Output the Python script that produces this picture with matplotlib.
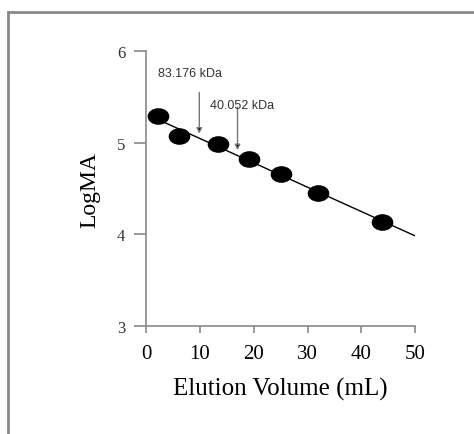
import numpy as np
import matplotlib
matplotlib.use("Agg")
from matplotlib import pyplot as plt
from matplotlib.markers import MarkerStyle
from matplotlib.transforms import Affine2D
from matplotlib.patches import Rectangle

# Data
elution_volume = [2.3, 6.1, 13.4, 19.2, 25.1, 32.0, 43.9]
log_ma = [5.29, 5.07, 4.99, 4.82, 4.66, 4.45, 4.14]

# Marked proteins
arrow_labels = ["83.176 kDa", "40.052 kDa"]
arrow_x = [9.9, 17.0]
arrow_top = [5.55, 5.39]
arrow_tip = [5.10, 4.92]
label_y = [5.76, 5.41]
label_x = [2.2, 11.9]

# Linear fit line, drawn from first point to x = 50
slope, intercept = np.polyfit(elution_volume, log_ma, 1)
fit_x = np.array([elution_volume[0], 50])
fit_y = slope * fit_x + intercept

serif = ["Liberation Serif", "DejaVu Serif"]
narrow = ["Liberation Sans Narrow", "Liberation Sans", "DejaVu Sans"]

fig = plt.figure(figsize=(4.74, 4.35), dpi=100)
ax = fig.add_axes([0.308, 0.248, 0.568, 0.632])

# Outer gray frame (top and left visible)
fig.patches.append(Rectangle((0.017, -0.05), 1.1, 1.05 - 0.0155 * 2, transform=fig.transFigure,
                             fill=False, edgecolor="#8a8a8a", linewidth=2))

ax.plot(fit_x, fit_y, color="black", linewidth=1.0, zorder=2)
ellipse = MarkerStyle("o", transform=Affine2D().scale(1.33, 1.0))
ax.scatter(elution_volume, log_ma, marker=ellipse, s=120, color="black", zorder=3)

for x, top, tip, lab, lx, ly in zip(arrow_x, arrow_top, arrow_tip, arrow_labels, label_x, label_y):
    ax.annotate("", xy=(x, tip), xytext=(x, top),
                arrowprops=dict(arrowstyle="-|>", color="#777777", lw=1.0,
                                mutation_scale=8, shrinkA=0, shrinkB=0, fc="black"))
    ax.text(lx, ly, lab, fontsize=9, family=narrow, color="#333333", va="center", ha="left")

ax.set_xlim(0, 50)
ax.set_ylim(3, 6)
ax.set_xticks([0, 10, 20, 30, 40, 50])
ax.set_yticks([3, 4, 5, 6])

for side in ["top", "right"]:
    ax.spines[side].set_visible(False)
for side in ["left", "bottom"]:
    ax.spines[side].set_color("#8a8a8a")
    ax.spines[side].set_linewidth(1.2)

ax.tick_params(axis="y", direction="out", length=9, width=1.2, color="#8a8a8a", pad=6)
ax.tick_params(axis="x", direction="out", length=5, width=1.2, color="#8a8a8a", pad=8)
for t in ax.get_xticklabels():
    t.set_fontfamily(serif)
    t.set_fontsize(15)
for t in ax.get_yticklabels():
    t.set_fontfamily(serif)
    t.set_fontsize(12)
    t.set_color("#333333")

ax.set_xlabel("Elution Volume (mL)", fontsize=18, family=serif, labelpad=10)
ax.set_ylabel("LogMA", fontsize=17, family=serif, labelpad=12)

fig.savefig("out.png", dpi=100)
